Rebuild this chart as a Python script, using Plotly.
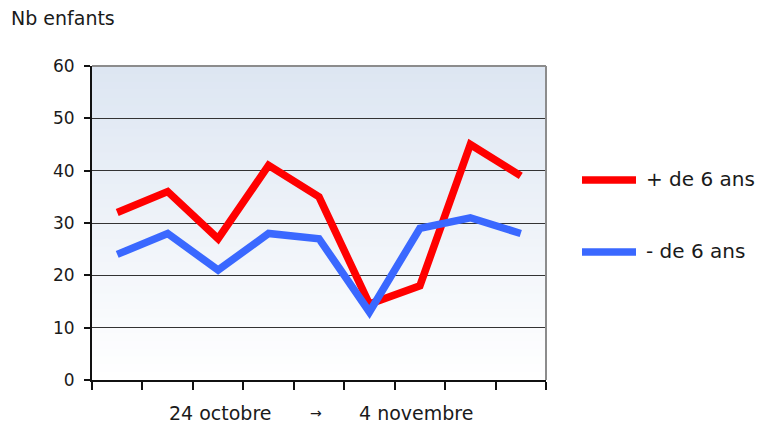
import plotly.graph_objects as go

categories = [1, 2, 3, 4, 5, 6, 7, 8, 9]
plus6 = [32, 36, 27, 41, 35, 14.5, 18, 45, 39]
moins6 = [24, 28, 21, 28, 27, 13, 29, 31, 28]
y_ticks = [0, 10, 20, 30, 40, 50, 60]
series_names = ["+ de 6 ans", "- de 6 ans"]
series_colors = ["#ff0000", "#3a68ff"]
x_title_parts = ["24 octobre", "\u2192", "4 novembre"]
y_title = "Nb enfants"

FONT = "DejaVu Sans"
TXT = "#1a1a1a"
xs = [c - 0.5 for c in categories]

fig = go.Figure()
fig.add_trace(go.Scatter(x=xs, y=plus6, mode="lines", name=series_names[0],
                         line=dict(color=series_colors[0], width=7.5), showlegend=False))
fig.add_trace(go.Scatter(x=xs, y=moins6, mode="lines", name=series_names[1],
                         line=dict(color=series_colors[1], width=7.5), showlegend=False))

L, R, T, B = 92, 546, 66, 380
W, H = 781, 425


def px(x):
    return (x - L) / (R - L)


def py(y):
    return (B - y) / (B - T)


shapes = []
n = 40
top = (221, 230, 242)
bot = (255, 255, 255)
for i in range(n):
    f = i / (n - 1)
    c = tuple(round(bot[k] + (top[k] - bot[k]) * f) for k in range(3))
    shapes.append(dict(type="rect", xref="x domain", yref="y domain",
                       x0=0, x1=1, y0=i / n, y1=min(1.0, (i + 2) / n),
                       fillcolor="rgb(%d,%d,%d)" % c, line=dict(width=0), layer="below"))
shapes.append(dict(type="line", xref="x domain", yref="y domain", x0=0, x1=1, y0=1, y1=1,
                   line=dict(color="#8c8c8c", width=2)))
shapes.append(dict(type="line", xref="x domain", yref="y domain", x0=1, x1=1, y0=0, y1=1,
                   line=dict(color="#8c8c8c", width=2)))

leg_y = [180, 252]
annotations = []
for name, col, yy in zip(series_names, series_colors, leg_y):
    shapes.append(dict(type="line", xref="paper", yref="paper",
                       x0=px(582), x1=px(636), y0=py(yy), y1=py(yy),
                       line=dict(color=col, width=7.5)))
    annotations.append(dict(text=name, xref="paper", yref="paper",
                            x=px(644), y=py(yy - 1),
                            xanchor="left", yanchor="middle", showarrow=False,
                            font=dict(size=20, color=TXT, family=FONT)))

annotations.append(dict(text=y_title, xref="paper", yref="paper",
                        x=px(9), y=py(18),
                        xanchor="left", yanchor="middle", showarrow=False,
                        font=dict(size=19, color=TXT, family=FONT)))
for txt, cx in zip(x_title_parts, [220, 316, 416]):
    annotations.append(dict(text=txt, xref="paper", yref="paper",
                            x=px(cx), y=py(413),
                            xanchor="center", yanchor="middle", showarrow=False,
                            font=dict(size=19 if txt != "\u2192" else 14, color=TXT, family=FONT)))

fig.update_layout(
    width=W, height=H,
    margin=dict(l=L, r=W - R, t=T, b=H - B),
    paper_bgcolor="white", plot_bgcolor="rgba(0,0,0,0)",
    font=dict(family=FONT, size=16, color=TXT),
    shapes=shapes, annotations=annotations, showlegend=False,
)
fig.update_xaxes(range=[0, 9], tickvals=list(range(10)), ticktext=[""] * 10,
                 ticks="outside", ticklen=8, tickcolor="#111", tickwidth=1.5,
                 showgrid=False, zeroline=False, showline=True, linecolor="#111", linewidth=2,
                 fixedrange=True)
fig.update_yaxes(range=[0, 60], tickvals=y_ticks, ticks="outside", ticklen=6,
                 tickcolor="#111", tickwidth=1.5, showgrid=True, gridcolor="#333", gridwidth=1,
                 zeroline=False, showline=True, linecolor="#111", linewidth=2,
                 ticklabelstandoff=6,
                 tickfont=dict(size=17, color=TXT, family=FONT), fixedrange=True)

fig.write_html("out.html", config={"displayModeBar": False},
               post_script="document.body.style.margin='0';document.body.style.padding='0';")
